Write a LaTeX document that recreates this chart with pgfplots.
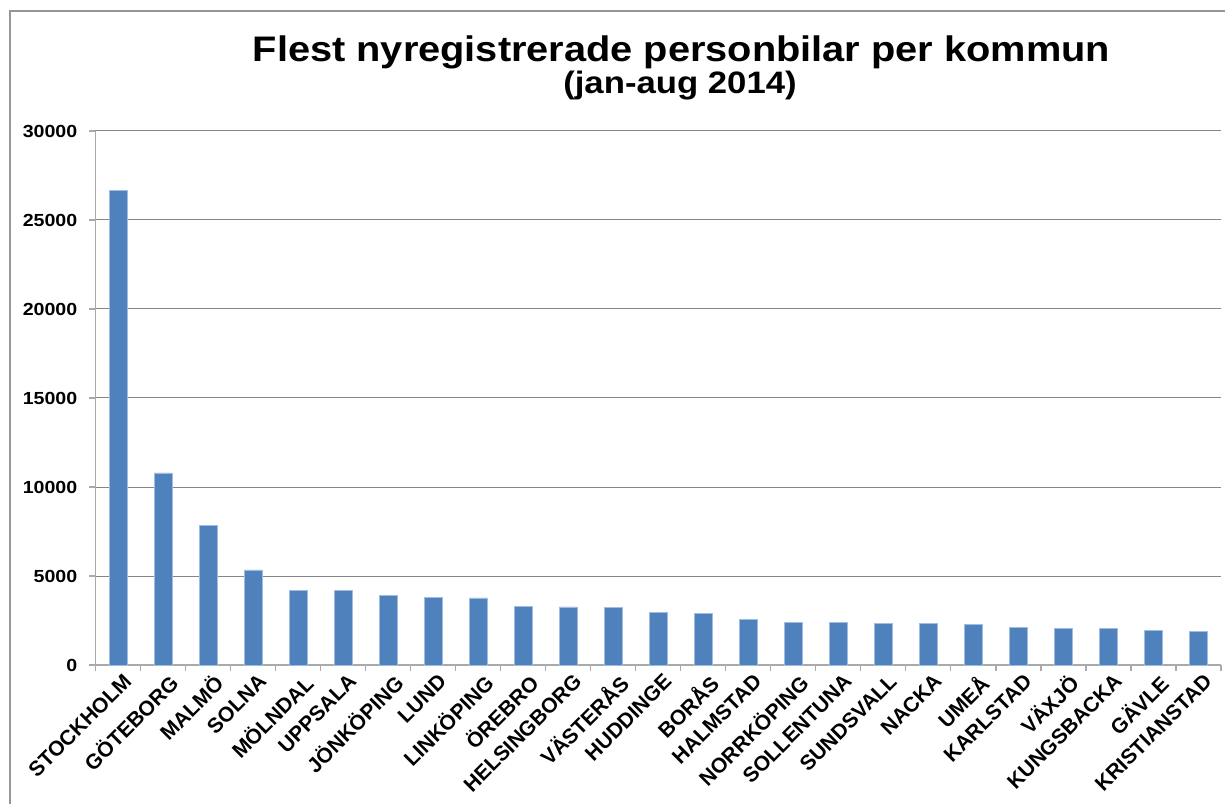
\documentclass[border=0pt]{standalone}
\usepackage{pgfplots}
\pgfplotsset{compat=1.18}
\usepackage{pgfplotstable}
\usepackage{fontspec}
\setmainfont[FakeStretch=1.12]{Liberation Sans}
\newfontfamily\lblfont{Liberation Sans}
\definecolor{barblue}{RGB}{79,129,189}
\definecolor{baredge}{RGB}{160,188,224}
\definecolor{gridgray}{RGB}{134,134,134}
\definecolor{axisgray}{RGB}{170,170,170}
\definecolor{framegray}{RGB}{150,150,150}

\pgfplotstableread{
x value
0 26650
1 10790
2 7840
3 5340
4 4210
5 4190
6 3890
7 3820
8 3765
9 3290
10 3260
11 3220
12 2955
13 2920
14 2560
15 2395
16 2375
17 2350
18 2345
19 2265
20 2095
21 2075
22 2055
23 1965
24 1870
}\datatable

\begin{document}
\begin{tikzpicture}
\useasboundingbox (-95.5pt,-138pt) rectangle (1129.5pt,665pt);
\draw[framegray, line width=1.2pt] (-85.5pt,-160pt) -- (-85.5pt,654pt) -- (1150pt,654pt);
\begin{axis}[
  at={(0pt,0pt)}, anchor=south west,
  scale only axis,
  width=1125.5pt, height=534pt,
  xmin=-0.5, xmax=24.5,
  ymin=0, ymax=30000,
  ytick={0,5000,10000,15000,20000,25000,30000},
  scaled y ticks=false,
  ymajorgrids,
  grid style={gridgray, line width=1pt},
  axis lines*=left,
  axis line style={axisgray, line width=1.2pt},
  tick align=outside,
  major tick length=6pt,
  tick style={axisgray, line width=1.2pt},
  /pgf/number format/assume math mode=true,
  /pgf/number format/1000 sep={},
  yticklabel style={font=\fontsize{17.5}{17.5}\selectfont\bfseries, inner sep=0pt, xshift=-12pt},
  xtick={-0.5,0.5,...,24.5},
  x tick label as interval,
  xticklabels={STOCKHOLM,GÖTEBORG,MALMÖ,SOLNA,MÖLNDAL,UPPSALA,JÖNKÖPING,LUND,LINKÖPING,ÖREBRO,HELSINGBORG,VÄSTERÅS,HUDDINGE,BORÅS,HALMSTAD,NORRKÖPING,SOLLENTUNA,SUNDSVALL,NACKA,UMEÅ,KARLSTAD,VÄXJÖ,KUNGSBACKA,GÄVLE,KRISTIANSTAD},
  xticklabel style={font=\lblfont\fontsize{21}{21}\selectfont\bfseries, rotate=45, anchor=north east, inner sep=0pt, xshift=2pt, yshift=-4pt},
  clip=false,
]
\addplot[ybar, bar width=18pt, bar shift=0pt, fill=barblue, draw=baredge, line width=0.8pt] table[x=x, y=value] {\datatable};
\end{axis}
\node[anchor=base, font=\fontsize{35.5}{35.5}\selectfont\bfseries] at (586pt,603pt) {Flest nyregistrerade personbilar per kommun};
\node[anchor=base, font=\fontsize{31}{31}\selectfont\bfseries] at (584.5pt,571pt) {(jan-aug 2014)};
\end{tikzpicture}
\end{document}
